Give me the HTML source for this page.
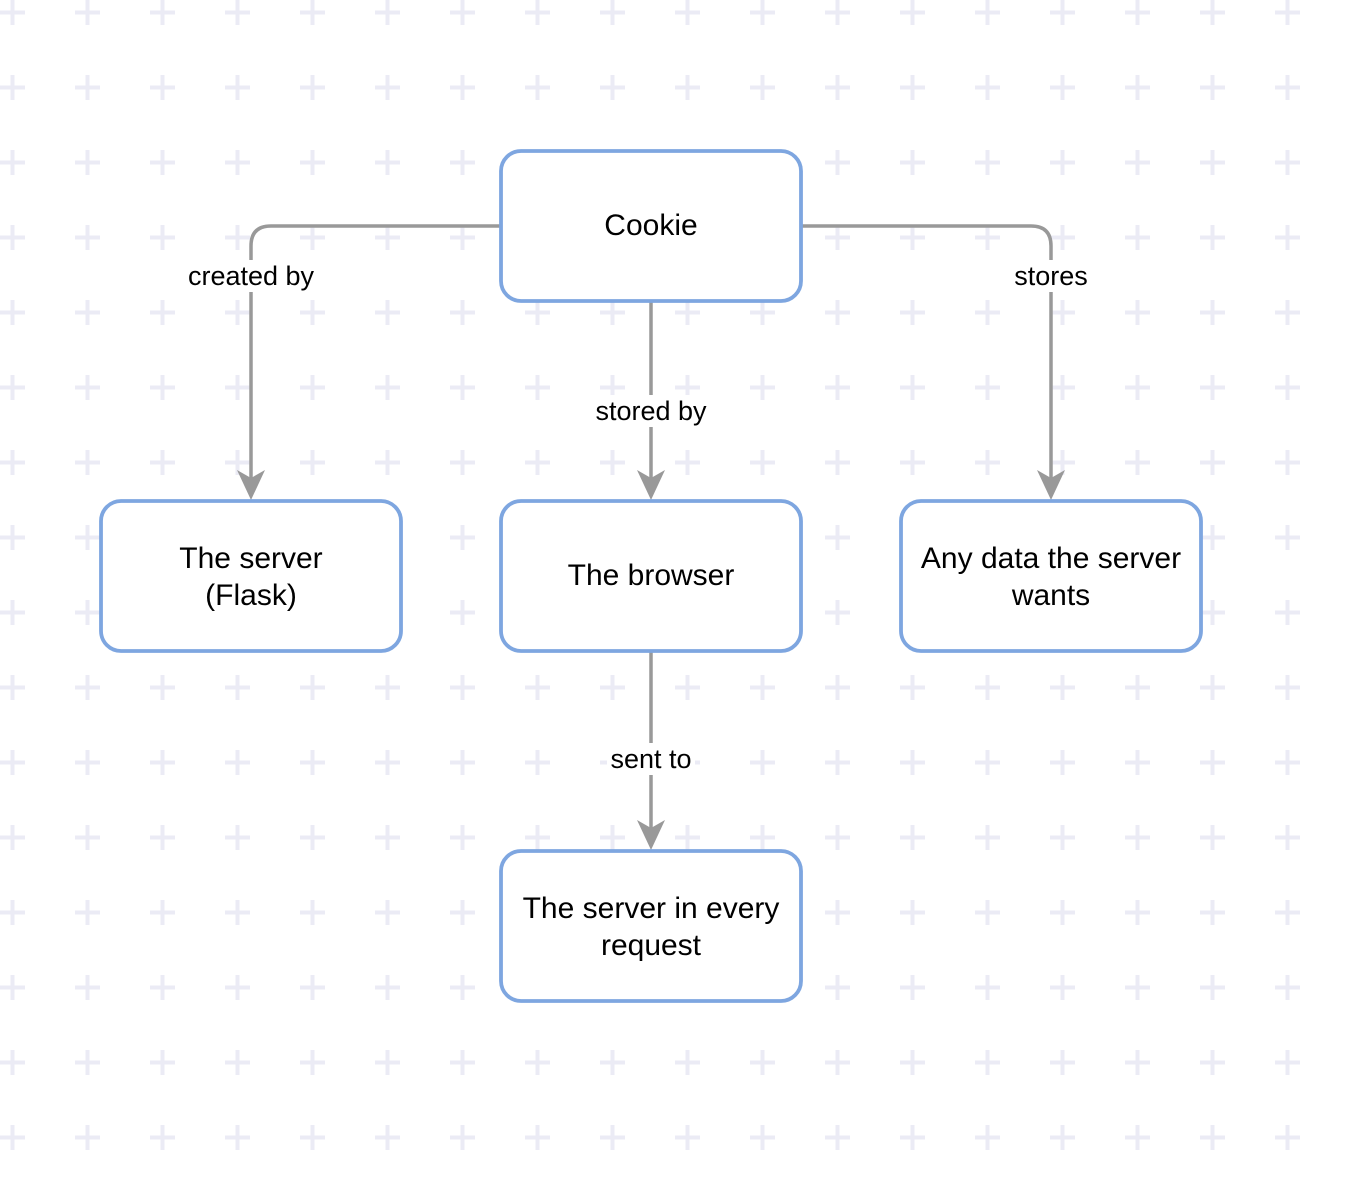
<!DOCTYPE html>
<html><head><meta charset="utf-8"><style>
html,body{margin:0;padding:0;background:#fff;}
body{width:1353px;height:1203px;overflow:hidden;position:relative;font-family:"Liberation Sans",Arial,sans-serif;}
</style></head><body>
<svg width="1353" height="1203" xmlns="http://www.w3.org/2000/svg" style="position:absolute;left:0;top:0">
<defs>
<pattern id="g" x="0" y="0" width="75" height="75" patternUnits="userSpaceOnUse">
<rect x="0" y="10.5" width="25" height="4" fill="#ebebf5"/>
<rect x="10.5" y="0" width="4" height="25" fill="#ebebf5"/>
</pattern>
</defs>
<rect x="0" y="0" width="1300" height="1150" fill="url(#g)"/>
<g fill="none" stroke="#999" stroke-width="3.5">
<path d="M501 226 H271 Q251 226 251 246 V480"/>
<path d="M801 226 H1031 Q1051 226 1051 246 V480"/>
<path d="M651 301 V480"/>
<path d="M651 651 V830"/>
</g>
<g fill="#999">
<path d="M237 470 L251 500 L265 470 L251 478 Z"/>
<path d="M637 470 L651 500 L665 470 L651 478 Z"/>
<path d="M1037 470 L1051 500 L1065 470 L1051 478 Z"/>
<path d="M637 820 L651 850 L665 820 L651 828 Z"/>
</g>
<g fill="#fff" stroke="#7ea6e0" stroke-width="3.8">
<rect x="501" y="151" width="300" height="150" rx="20"/>
<rect x="101" y="501" width="300" height="150" rx="20"/>
<rect x="501" y="501" width="300" height="150" rx="20"/>
<rect x="901" y="501" width="300" height="150" rx="20"/>
<rect x="501" y="851" width="300" height="150" rx="20"/>
</g>
<g fill="#fff">
<rect x="185" y="260" width="132" height="32"/>
<rect x="592" y="395" width="118" height="32"/>
<rect x="1012" y="260" width="78" height="32"/>
<rect x="607" y="743" width="88" height="32"/>
</g>
<g font-family="Liberation Sans, Arial, sans-serif" text-anchor="middle" fill="#000">
<g font-size="27">
<text x="251" y="285">created by</text>
<text x="651" y="420">stored by</text>
<text x="1051" y="285">stores</text>
<text x="651" y="768">sent to</text>
</g>
<g font-size="30">
<text x="651" y="235">Cookie</text>
<text x="251" y="568">The server</text>
<text x="251" y="605">(Flask)</text>
<text x="651" y="585">The browser</text>
<text x="1051" y="568">Any data the server</text>
<text x="1051" y="605">wants</text>
<text x="651" y="918">The server in every</text>
<text x="651" y="955">request</text>
</g>
</g>
</svg>
</body></html>
